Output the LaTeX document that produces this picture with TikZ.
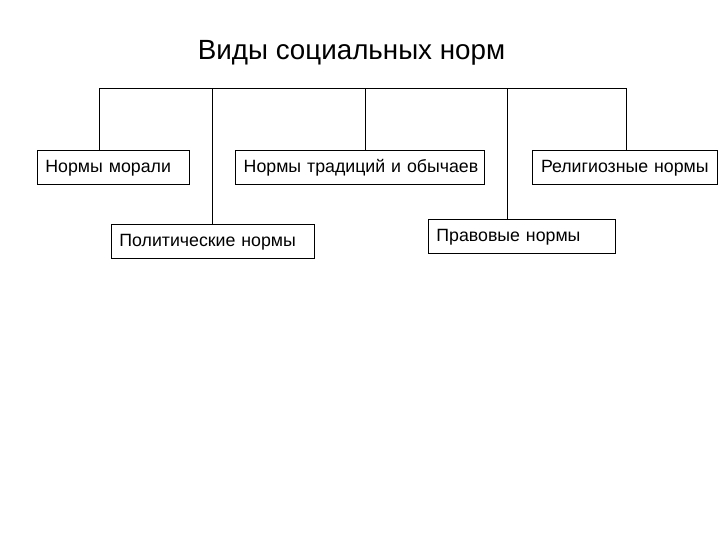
\documentclass[tikz,border=0pt]{standalone}
\usepackage{fontspec}
\setmainfont{Liberation Sans}

\begin{document}
\begin{tikzpicture}[scale=0.2]
\tikzstyle{every node}+=[inner sep=0pt]
\tikzstyle{normbox}=[draw=black, line width=0.5pt, anchor=west, align=left, inner xsep=4.7pt, minimum height=19.5pt, text height=8pt, text depth=2pt, font=\fontsize{10.1}{12}\selectfont]
\useasboundingbox (0,0) rectangle (72,-54);

\draw (35.15,-5.3) node (title) {\fontsize{15.8}{18}\selectfont Виды социальных норм};

\draw (3.67,-16.77) node [normbox, text width=77.5pt] (morali) {\mbox{Нормы морали}};
\draw (23.5,-16.77) node [normbox, text width=132.3pt] (tradic) {\mbox{Нормы традиций и обычаев}};
\draw (53.23,-16.77) node [normbox, text width=95.9pt] (relig) {\mbox{Религиозные нормы}};
\draw (11.07,-24.13) node [normbox, text width=106.2pt] (polit) {\mbox{Политические нормы}};
\draw (42.77,-23.63) node [normbox, text width=97pt] (pravo) {\mbox{Правовые нормы}};

\coordinate (b1) at (9.9,-8.8);
\coordinate (b2) at (21.27,-8.8);
\coordinate (b3) at (36.57,-8.8);
\coordinate (b4) at (50.73,-8.8);
\coordinate (b5) at (62.67,-8.8);
\draw [black, line width=0.5pt] (b1) -- (b5);
\draw [black, line width=0.5pt] (b1) -- (b1 |- morali.north);
\draw [black, line width=0.5pt] (b2) -- (b2 |- polit.north);
\draw [black, line width=0.5pt] (b3) -- (b3 |- tradic.north);
\draw [black, line width=0.5pt] (b4) -- (b4 |- pravo.north);
\draw [black, line width=0.5pt] (b5) -- (b5 |- relig.north);
\end{tikzpicture}
\end{document}
